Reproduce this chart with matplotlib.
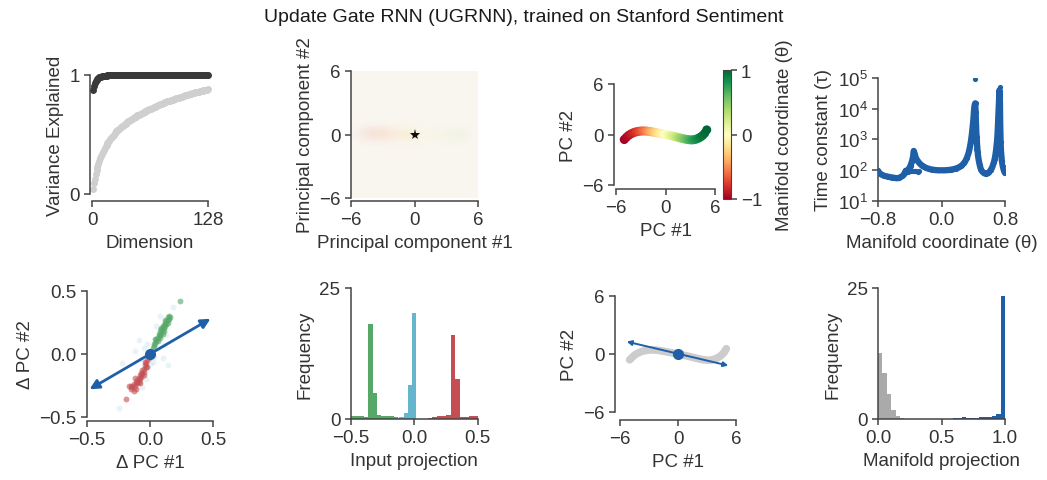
import numpy as np
import matplotlib
matplotlib.use("Agg")
import matplotlib.pyplot as plt
from matplotlib import cm
from matplotlib.ticker import LogLocator, FixedLocator

plt.rcParams['font.family'] = ['Liberation Sans', 'DejaVu Sans']
plt.rcParams['axes.unicode_minus'] = True

FS = 13.5
TXT = '#333333'
SPC = '#444444'
BLUE = '#1f5fa8'
GREEN = '#55a868'
RED = '#c44e52'
CYAN = '#64b5cd'

# ---------------- data ----------------
# Panel 1: cumulative variance explained per dimension
var_trained = [0.870, 0.910, 0.935, 0.950, 0.960, 0.968, 0.974, 0.979, 0.983, 0.986,
               0.988, 0.990, 0.992, 0.993, 0.994, 0.995, 0.996, 0.997, 0.997, 0.998,
               0.998, 0.998, 0.998, 0.999, 0.999, 0.999, 0.999, 0.999, 0.999, 0.999,
               0.999, 0.999, 0.999, 0.999, 0.999, 1.000, 1.000, 1.000, 1.000, 1.000,
               1.000, 1.000, 1.000, 1.000, 1.000, 1.000, 1.000, 1.000, 1.000, 1.000,
               1.000, 1.000, 1.000, 1.000, 1.000, 1.000, 1.000, 1.000, 1.000, 1.000,
               1.000, 1.000, 1.000, 1.000, 1.000, 1.000, 1.000, 1.000, 1.000, 1.000,
               1.000, 1.000, 1.000, 1.000, 1.000, 1.000, 1.000, 1.000, 1.000, 1.000,
               1.000, 1.000, 1.000, 1.000, 1.000, 1.000, 1.000, 1.000, 1.000, 1.000,
               1.000, 1.000, 1.000, 1.000, 1.000, 1.000, 1.000, 1.000, 1.000, 1.000,
               1.000, 1.000, 1.000, 1.000, 1.000, 1.000, 1.000, 1.000, 1.000, 1.000,
               1.000, 1.000, 1.000, 1.000, 1.000, 1.000, 1.000, 1.000, 1.000, 1.000,
               1.000, 1.000, 1.000, 1.000, 1.000, 1.000, 1.000, 1.000]
var_random = [0.040, 0.090, 0.130, 0.168, 0.200, 0.230, 0.256, 0.280, 0.300, 0.320,
              0.338, 0.355, 0.370, 0.385, 0.400, 0.413, 0.426, 0.438, 0.449, 0.460,
              0.471, 0.481, 0.491, 0.500, 0.510, 0.518, 0.526, 0.534, 0.542, 0.550,
              0.556, 0.562, 0.568, 0.574, 0.580, 0.586, 0.592, 0.598, 0.604, 0.610,
              0.615, 0.620, 0.625, 0.630, 0.635, 0.640, 0.645, 0.650, 0.655, 0.660,
              0.664, 0.668, 0.672, 0.676, 0.680, 0.684, 0.688, 0.692, 0.696, 0.700,
              0.704, 0.707, 0.711, 0.714, 0.718, 0.721, 0.725, 0.728, 0.732, 0.735,
              0.739, 0.742, 0.746, 0.749, 0.753, 0.756, 0.760, 0.763, 0.767, 0.770,
              0.773, 0.775, 0.778, 0.780, 0.783, 0.785, 0.788, 0.790, 0.793, 0.795,
              0.798, 0.800, 0.803, 0.805, 0.808, 0.810, 0.813, 0.815, 0.818, 0.820,
              0.823, 0.825, 0.828, 0.830, 0.833, 0.835, 0.838, 0.840, 0.843, 0.845,
              0.847, 0.849, 0.851, 0.853, 0.855, 0.857, 0.859, 0.861, 0.863, 0.865,
              0.867, 0.869, 0.871, 0.873, 0.875, 0.876, 0.878, 0.880]

# Panel 2: faint density of states in PC space (rows: PC2 = -1 .. 1)
pc_grid_x = [-6, -5, -4, -3, -2, -1, 0, 1, 2, 3, 4, 5, 6]
pc_grid_y = [-1.0, -0.5, 0.0, 0.5, 1.0]
pc_density = [
    [0.00, 0.00, 0.00, 0.00, 0.00, 0.00, 0.00, 0.00, 0.00, 0.00, 0.00, 0.00, 0.00],
    [0.00, 0.02, 0.05, 0.07, 0.06, 0.06, 0.12, 0.05, 0.04, 0.04, 0.04, 0.02, 0.00],
    [0.00, 0.05, 0.12, 0.16, 0.15, 0.18, 0.38, 0.12, 0.09, 0.09, 0.10, 0.04, 0.00],
    [0.00, 0.03, 0.09, 0.11, 0.08, 0.07, 0.12, 0.05, 0.04, 0.04, 0.04, 0.02, 0.00],
    [0.00, 0.00, 0.00, 0.00, 0.00, 0.00, 0.00, 0.00, 0.00, 0.00, 0.00, 0.00, 0.00],
]

# Panel 3 / 7: fixed point manifold in PC space
man_pc1 = [-5.0, -4.75, -4.5, -4.25, -4.0, -3.75, -3.5, -3.25, -3.0, -2.75, -2.5, -2.25,
           -2.0, -1.75, -1.5, -1.25, -1.0, -0.75, -0.5, -0.25, 0.0, 0.25, 0.5, 0.75,
           1.0, 1.25, 1.5, 1.75, 2.0, 2.25, 2.5, 2.75, 3.0, 3.25, 3.5, 3.75, 4.0, 4.25,
           4.5, 4.75, 5.0]
man_pc2 = [-0.60, -0.35, -0.12, 0.04, 0.16, 0.26, 0.33, 0.38, 0.41, 0.42, 0.42, 0.40,
           0.37, 0.33, 0.29, 0.24, 0.19, 0.14, 0.09, 0.05, 0.00, -0.05, -0.10, -0.16,
           -0.22, -0.28, -0.34, -0.40, -0.46, -0.52, -0.57, -0.61, -0.64, -0.64, -0.61,
           -0.54, -0.44, -0.30, -0.12, 0.15, 0.55]
man_theta = [-1.00, -0.97, -0.94, -0.90, -0.86, -0.82, -0.78, -0.73, -0.68, -0.63, -0.58,
             -0.52, -0.46, -0.40, -0.34, -0.27, -0.21, -0.15, -0.10, -0.05, 0.00, 0.05,
             0.10, 0.15, 0.21, 0.27, 0.34, 0.40, 0.46, 0.52, 0.58, 0.63, 0.68, 0.73,
             0.78, 0.82, 0.86, 0.90, 0.94, 0.97, 1.00]

# Panel 4: time constants along the manifold
tau_theta = [-0.80, -0.79, -0.78, -0.76, -0.74, -0.72, -0.70, -0.68, -0.66, -0.64, -0.62,
             -0.60, -0.58, -0.56, -0.54, -0.52, -0.50, -0.48, -0.47, -0.46, -0.45, -0.44,
             -0.43, -0.42, -0.41, -0.40, -0.39, -0.38, -0.37, -0.36, -0.355, -0.35,
             -0.345, -0.34, -0.33, -0.32, -0.31, -0.30, -0.28, -0.26, -0.24, -0.22,
             -0.20, -0.18, -0.16, -0.14, -0.12, -0.10, -0.08, -0.06, -0.04, -0.02, 0.00,
             0.02, 0.04, 0.06, 0.08, 0.10, 0.12, 0.14, 0.16, 0.18, 0.20, 0.22, 0.24,
             0.26, 0.28, 0.30, 0.32, 0.34, 0.35, 0.36, 0.37, 0.38, 0.39, 0.40, 0.405,
             0.41, 0.415, 0.42, 0.425, 0.43, 0.435, 0.44, 0.445, 0.45, 0.455, 0.46, 0.47,
             0.48, 0.49, 0.50, 0.52, 0.54, 0.56, 0.58, 0.60, 0.62, 0.64, 0.66, 0.67,
             0.68, 0.69, 0.70, 0.705, 0.71, 0.715, 0.72, 0.725, 0.73, 0.735, 0.74, 0.745,
             0.75, 0.76, 0.77, 0.78, 0.79, 0.80]
tau_value = [95, 85, 78, 72, 68, 65, 63, 61, 60, 58, 57,
             56, 55, 54, 55, 58, 62, 68, 75, 85, 95, 90,
             95, 100, 110, 125, 140, 165, 200, 260, 320, 420,
             380, 330, 280, 240, 215, 195, 170, 150, 138, 128,
             120, 114, 110, 106, 104, 102, 100, 99, 98, 98, 98,
             98, 98, 99, 100, 101, 103, 105, 108, 112, 117, 123, 132,
             145, 165, 195, 250, 350, 450, 600, 850, 1300, 2200, 4000, 6000,
             9000, 12000, 14000, 15000, 8000, 3000, 1500, 900, 600, 400, 300, 200,
             150, 120, 100, 85, 78, 75, 78, 85, 100, 125, 180, 230,
             320, 500, 900, 1400, 2500, 5000, 10000, 20000, 40000, 30000, 3000, 800,
             400, 200, 140, 110, 90, 80]
tau_extra_theta = [-0.46, -0.44, -0.42, -0.40, -0.38, -0.36, -0.34, -0.32, -0.30, -0.28,
                   0.42, 0.44, 0.43, 0.44, 0.45, 0.45, 0.46, 0.735, 0.735, 0.735, 0.735,
                   0.73, 0.74]
tau_extra_value = [80, 85, 88, 90, 92, 95, 92, 90, 88, 90,
                   90000, 15000, 1000, 500, 300, 1200, 250, 50000, 35000, 25000, 15000,
                   8000, 1500]

# Panel 5: input-driven displacements (Delta PC) and readout vector
dpc_pos_x = [0.01, 0.02, 0.03, 0.04, 0.05, 0.05, 0.06, 0.07, 0.07, 0.08, 0.08, 0.09, 0.09,
             0.10, 0.10, 0.11, 0.11, 0.12, 0.12, 0.13, 0.13, 0.14, 0.14, 0.15, 0.15, 0.06,
             0.04, 0.10, 0.16, 0.24, 0.12, 0.08, 0.03, 0.09, 0.14, 0.11]
dpc_pos_y = [0.02, 0.05, 0.06, 0.09, 0.10, 0.12, 0.13, 0.14, 0.16, 0.15, 0.18, 0.17, 0.20,
             0.19, 0.22, 0.21, 0.23, 0.22, 0.25, 0.24, 0.26, 0.25, 0.27, 0.28, 0.30, 0.10,
             0.12, 0.16, 0.29, 0.42, 0.27, 0.13, 0.08, 0.21, 0.29, 0.18]
dpc_neg_x = [-0.01, -0.02, -0.03, -0.03, -0.04, -0.05, -0.05, -0.06, -0.06, -0.07, -0.07,
             -0.08, -0.08, -0.09, -0.09, -0.10, -0.10, -0.11, -0.12, -0.13, -0.14, -0.15,
             -0.15, -0.13, -0.17, -0.19, -0.02, -0.04, -0.11, -0.12, -0.05, -0.08]
dpc_neg_y = [-0.03, -0.05, -0.07, -0.10, -0.09, -0.12, -0.14, -0.13, -0.16, -0.15, -0.18,
             -0.17, -0.20, -0.19, -0.22, -0.21, -0.23, -0.22, -0.25, -0.24, -0.26, -0.25,
             -0.28, -0.29, -0.25, -0.36, -0.10, -0.06, -0.28, -0.19, -0.17, -0.23]
dpc_neu_x = [-0.09, -0.05, 0.03, 0.10, -0.22, -0.25, 0.14, 0.18, 0.06, -0.02, 0.02, -0.07,
             0.11, -0.03, 0.05, 0.08, -0.12, 0.00, -0.06, 0.13]
dpc_neu_y = [0.11, 0.05, -0.02, -0.03, -0.07, -0.43, -0.09, 0.37, 0.05, 0.08, -0.06, -0.04,
             0.07, -0.20, 0.22, 0.30, 0.02, -0.08, -0.26, 0.15]
readout_dpc = [0.48, 0.28]

# Panel 6: histograms of input projections (density)
hist_neg_edges = [-0.498, -0.464, -0.430, -0.396, -0.362, -0.328, -0.294, -0.260, -0.226,
                  -0.192, -0.158, -0.124, -0.090]
hist_neg_vals = [0.5, 0.6, 0.5, 0.3, 18.1, 5.0, 0.8, 0.6, 0.6, 0.6, 0.3, 0.2]
hist_neu_edges = [-0.152, -0.118, -0.084, -0.050, -0.016, 0.018]
hist_neu_vals = [0.2, 0.3, 1.1, 6.4, 20.2]
hist_pos_edges = [0.106, 0.142, 0.178, 0.214, 0.250, 0.286, 0.322, 0.358, 0.394, 0.430,
                  0.466, 0.502]
hist_pos_vals = [0.15, 0.4, 0.5, 0.5, 0.8, 16.0, 7.6, 0.4, 0.3, 0.5, 0.6]

# Panel 7: readout direction in PC space
readout_pc_a = [-5.3, 1.28]
readout_pc_b = [5.2, -1.2]

# Panel 8: manifold projection histograms (density)
mproj_rand_edges = [0.000, 0.0345, 0.069, 0.1035, 0.138, 0.1725, 0.207, 0.2415, 0.276]
mproj_rand_vals = [12.6, 8.8, 4.8, 1.7, 0.6, 0.2, 0.08, 0.05]
mproj_inp_edges = [0.592, 0.626, 0.660, 0.694, 0.728, 0.762, 0.796, 0.830, 0.864, 0.898,
                   0.932, 0.966, 1.000]
mproj_inp_vals = [0.15, 0.2, 0.35, 0.2, 0.2, 0.25, 0.3, 0.3, 0.35, 0.5, 0.95, 23.5]

# ---------------- figure ----------------
W, H = 1047, 481
fig = plt.figure(figsize=(W / 100, H / 100), dpi=100)


def place(x0, x1, ytop, ybot):
    return fig.add_axes([x0 / W, (H - ybot) / H, (x1 - x0) / W, (ybot - ytop) / H])


def style(ax, left_off=0, bottom_off=0):
    for s in ['top', 'right']:
        ax.spines[s].set_visible(False)
    ax.spines['left'].set_position(('outward', left_off * 0.72))
    ax.spines['bottom'].set_position(('outward', bottom_off * 0.72))
    for s in ['left', 'bottom']:
        ax.spines[s].set_color(SPC)
        ax.spines[s].set_linewidth(1.1)
    ax.tick_params(direction='out', length=4.5, width=1.1, color=SPC,
                   labelsize=FS, labelcolor=TXT, pad=3)
    ax.xaxis.label.set_color(TXT)
    ax.yaxis.label.set_color(TXT)
    ax.xaxis.label.set_size(FS)
    ax.yaxis.label.set_size(FS)


fig.text(0.5, 1 - 18 / H, 'Update Gate RNN (UGRNN), trained on Stanford Sentiment',
         ha='center', va='center', fontsize=14, color='#1a1a1a')

# Panel 1
ax1 = place(92, 208, 76, 195)
dims = np.arange(1, len(var_trained) + 1)
ax1.plot(dims, var_random, 'o', ms=5, mew=0, color='#cfcfcf', clip_on=False)
ax1.plot(dims, var_trained, 'o', ms=5, mew=0, color='#3a3a3a', clip_on=False)
ax1.set_xlim(0, 128)
ax1.set_ylim(0, 1)
ax1.set_xticks([0, 128])
ax1.set_yticks([0, 1])
ax1.set_xlabel('Dimension')
ax1.set_ylabel('Variance Explained')
style(ax1, 2, 7)

# Panel 2
ax2 = place(351, 478, 72, 199)
ax2.set_facecolor('#f9f6ef')
dens = np.array(pc_density)
cols = cm.RdYlGn(np.clip(np.array(pc_grid_x) / 7.0 - 0.15, -1, 1) * 0.5 + 0.5)
rgba = np.zeros(dens.shape + (4,))
rgba[..., :3] = cols[None, :, :3]
rgba[..., 3] = dens
dx = 0.5 * (pc_grid_x[1] - pc_grid_x[0])
dy = 0.5 * (pc_grid_y[1] - pc_grid_y[0])
ax2.imshow(rgba, extent=[pc_grid_x[0] - dx, pc_grid_x[-1] + dx,
                         pc_grid_y[0] - dy, pc_grid_y[-1] + dy],
           origin='lower', aspect='auto', interpolation='bicubic')
ax2.plot([0], [0], marker='*', ms=8, color='#111111', mew=0)
ax2.set_xlim(-6, 6)
ax2.set_ylim(-6, 6)
ax2.set_xticks([-6, 0, 6])
ax2.set_yticks([-6, 0, 6])
ax2.set_xlabel('Principal component #1')
ax2.set_ylabel('Principal component #2')
style(ax2, 0, 3)

# Panel 3
ax3 = place(616, 715, 85, 186)
sc = ax3.scatter(man_pc1, man_pc2, c=man_theta, cmap='RdYlGn', vmin=-1, vmax=1,
                 s=42, linewidths=0, zorder=3)
ax3.set_xlim(-6, 6)
ax3.set_ylim(-6, 6)
ax3.set_xticks([-6, 0, 6])
ax3.set_yticks([-6, 0, 6])
ax3.set_xlabel('PC #1')
ax3.set_ylabel('PC #2')
style(ax3, 2, 4)
cax = place(722.7, 730.7, 71, 200)
cb = fig.colorbar(sc, cax=cax, ticks=[-1, 0, 1])
cb.outline.set_edgecolor(SPC)
cb.outline.set_linewidth(0.8)
cax.tick_params(length=4.5, width=1.1, color=SPC, labelsize=FS, labelcolor=TXT, pad=3)
cb.set_label('Manifold coordinate (θ)', fontsize=FS, color=TXT, labelpad=10)

# Panel 4
ax4 = place(878, 1005, 79, 201.7)
ax4.plot(tau_theta, tau_value, '-', lw=4.5, color=BLUE, solid_capstyle='round', zorder=2)
ax4.scatter(tau_theta, tau_value, s=14, color=BLUE, linewidths=0, zorder=3)
ax4.scatter(tau_extra_theta, tau_extra_value, s=14, color=BLUE, linewidths=0, zorder=3)
ax4.set_yscale('log')
ax4.set_xlim(-0.8, 0.8)
ax4.set_ylim(10, 1e5)
ax4.set_xticks([-0.8, 0.0, 0.8])
ax4.set_xticklabels(['\u22120.8', '0.0', '0.8'])
ax4.yaxis.set_major_locator(FixedLocator([1e1, 1e2, 1e3, 1e4, 1e5]))
ax4.yaxis.set_minor_locator(LogLocator(base=10, subs=np.arange(2, 10)))
ax4.set_xlabel('Manifold coordinate (θ)')
ax4.set_ylabel('Time constant (τ)')
style(ax4, 0, 0)
ax4.tick_params(which='minor', length=2.5, width=0.8, color=SPC)

# Panel 5
ax5 = place(87, 213, 292, 418)
ax5.scatter(dpc_neu_x, dpc_neu_y, s=18, color=CYAN, alpha=0.15, linewidths=0)
ax5.scatter(dpc_pos_x, dpc_pos_y, s=18, color=GREEN, alpha=0.6, linewidths=0)
ax5.scatter(dpc_neg_x, dpc_neg_y, s=18, color=RED, alpha=0.6, linewidths=0)
ax5.annotate('', xy=(readout_dpc[0], readout_dpc[1]),
             xytext=(-readout_dpc[0], -readout_dpc[1]),
             arrowprops=dict(arrowstyle='<|-|>', color=BLUE, lw=2.0,
                             mutation_scale=14, shrinkA=0, shrinkB=0))
ax5.plot([0], [0], 'o', ms=8, color=BLUE, mew=0, zorder=5)
ax5.set_xlim(-0.5, 0.5)
ax5.set_ylim(-0.5, 0.5)
ax5.set_xticks([-0.5, 0.0, 0.5])
ax5.set_yticks([-0.5, 0.0, 0.5])
ax5.set_xlabel('Δ PC #1')
ax5.set_ylabel('Δ PC #2')
style(ax5, 0, 4)

# Panel 6
ax6 = place(350.7, 477.7, 289, 420)
for edges, vals, col in [(hist_neg_edges, hist_neg_vals, GREEN),
                         (hist_neu_edges, hist_neu_vals, CYAN),
                         (hist_pos_edges, hist_pos_vals, RED)]:
    e = np.array(edges)
    ax6.bar(e[:-1], vals, width=np.diff(e), align='edge', color=col, linewidth=0)
ax6.set_xlim(-0.5, 0.5)
ax6.set_ylim(0, 25)
ax6.set_xticks([-0.5, 0.0, 0.5])
ax6.set_yticks([0, 25])
ax6.set_xlabel('Input projection')
ax6.set_ylabel('Frequency')
style(ax6, 0, 0)

# Panel 7
ax7 = place(620, 736, 297, 413)
ax7.plot(man_pc1, man_pc2, '-', lw=5.5, color='#cccccc', solid_capstyle='round', zorder=2)
ax7.annotate('', xy=tuple(readout_pc_b), xytext=tuple(readout_pc_a),
             arrowprops=dict(arrowstyle='<|-|>', color=BLUE, lw=1.4,
                             mutation_scale=7, shrinkA=0, shrinkB=0), zorder=3)
ax7.plot([0], [0], 'o', ms=8, color=BLUE, mew=0, zorder=5)
ax7.set_xlim(-6, 6)
ax7.set_ylim(-6, 6)
ax7.set_xticks([-6, 0, 6])
ax7.set_yticks([-6, 0, 6])
ax7.set_xlabel('PC #1')
ax7.set_ylabel('PC #2')
style(ax7, 5, 8)

# Panel 8
ax8 = place(878, 1005, 289, 420)
for edges, vals, col in [(mproj_rand_edges, mproj_rand_vals, '#aaaaaa'),
                         (mproj_inp_edges, mproj_inp_vals, BLUE)]:
    e = np.array(edges)
    ax8.bar(e[:-1], vals, width=np.diff(e), align='edge', color=col, linewidth=0)
ax8.set_xlim(0, 1)
ax8.set_ylim(0, 25)
ax8.set_xticks([0.0, 0.5, 1.0])
ax8.set_xticklabels(['0.0', '0.5', '1.0'])
ax8.set_yticks([0, 25])
ax8.set_xlabel('Manifold projection')
ax8.set_ylabel('Frequency')
style(ax8, 0, 0)

fig.savefig('out.png', dpi=100)
